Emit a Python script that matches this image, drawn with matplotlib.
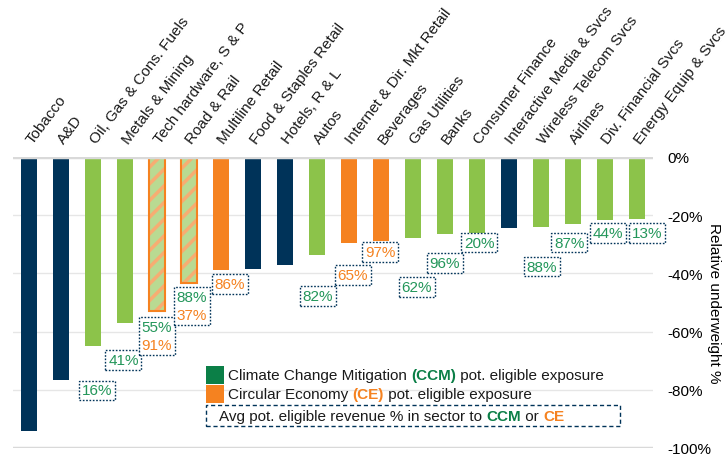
import numpy as np
import matplotlib.pyplot as plt
from matplotlib.offsetbox import TextArea, VPacker, HPacker, DrawingArea, AnnotationBbox
from matplotlib.patches import Rectangle

plt.rcParams['font.family'] = ['Liberation Sans', 'DejaVu Sans']

# sectors, left to right
categories = ["Tobacco", "A&D", "Oil, Gas & Cons. Fuels", "Metals & Mining",
              "Tech hardware, S & P", "Road & Rail", "Multiline Retail",
              "Food & Staples Retail", "Hotels, R & L", "Autos",
              "Internet & Dir. Mkt Retail", "Beverages", "Gas Utilities", "Banks",
              "Consumer Finance", "Interactive Media & Svcs", "Wireless Telecom Svcs",
              "Airlines", "Div. Financial Svcs", "Energy Equip & Svcs"]
# relative underweight %
values = [-94, -76.5, -65, -57, -53, -43.3, -39, -38.6, -37, -33.6,
          -29.5, -28.8, -28, -26.3, -26, -24.4, -24, -23, -21.5, -21.3]
# eligible exposure type: none / CCM / CE / both
exposure = ["none", "none", "CCM", "CCM", "both", "both", "CE", "none", "none", "CCM",
            "CE", "CE", "CCM", "CCM", "CCM", "none", "CCM", "CCM", "CCM", "CCM"]
# avg pot. eligible revenue %
ccm_pct = [None, None, 16, 41, 55, 88, None, None, None, 82,
           None, None, 62, 96, 20, None, 88, 87, 44, 13]
ce_pct = [None, None, None, None, 91, 37, 86, None, None, None,
          65, 97, None, None, None, None, None, None, None, None]
yticks = [0, -20, -40, -60, -80, -100]

# where the percentage boxes sit (data coords)
label_x = [None, None, 2.12, 2.95, 4.0, 5.09, 6.28, None, None, 9.03,
           10.12, 10.98, 12.12, 13.0, 14.07, None, 16.03, 16.88, 18.09, 19.31]
label_y = [None, None, -80.2, -69.8, -61.5, -51.2, -43.6, None, None, -47.8,
           -40.5, -32.6, -44.7, -36.4, -29.4, None, -37.7, -29.4, -26.1, -26.1]

navy = "#003359"
green = "#8cc34a"
orange = "#f58220"
dkgreen = "#0b7f47"
txtgreen = "#23965a"
light_green = "#b9da92"
light_orange = "#f7ad72"

fig = plt.figure(figsize=(7.28, 4.56), dpi=100)
ax = fig.add_axes([13/728, 7/456, 640/728, 291/456])

x = np.arange(len(categories))
colors = {"none": navy, "CCM": green, "CE": orange, "both": light_green}

plt.rcParams['hatch.linewidth'] = 2.5
for i, (v, e) in enumerate(zip(values, exposure)):
    if e == "both":
        ax.bar(x[i], v, 0.5, color=light_green, edgecolor=light_orange,
               hatch="//", linewidth=0, zorder=2)
        ax.bar(x[i], v, 0.5, color="none", edgecolor=orange, linewidth=1.5, zorder=3)
    else:
        ax.bar(x[i], v, 0.5, color=colors[e], zorder=2)

# grid
for t in yticks:
    if t in (0, -100):
        ax.axhline(t, color="#d9d9d9", lw=2.5, zorder=4)
    else:
        ax.axhline(t, color="#e6e6e6", lw=1, zorder=1)

ax.set_xlim(-0.5, len(categories) - 0.5)
ax.set_ylim(-100, 0)
for s in ax.spines.values():
    s.set_visible(False)

ax.xaxis.tick_top()
ax.set_xticks(x)
ax.set_xticklabels(categories, rotation=53, ha="left", va="center",
                   rotation_mode="anchor", fontsize=11, color="#1a1a1a")
ax.tick_params(axis="x", length=0, pad=11)

ax.yaxis.tick_right()
ax.set_yticks(yticks)
ax.set_yticklabels(["%d%%" % t for t in yticks], fontsize=11)
ax.tick_params(axis="y", length=0, pad=10)
ax.yaxis.set_label_position("right")
ax.set_ylabel("Relative underweight %", rotation=270, fontsize=11,
              va="center", ha="center")
ax.yaxis.set_label_coords(1.095, 0.5)

# percentage boxes
frame = dict(boxstyle="square,pad=0.2", fc="white", ec=navy, lw=1, ls=(0, (1.2, 1.2)))
for i in range(len(categories)):
    if label_x[i] is None:
        continue
    items = []
    if ccm_pct[i] is not None:
        items.append(TextArea("%d%%" % ccm_pct[i], textprops=dict(color=txtgreen, fontsize=11)))
    if ce_pct[i] is not None:
        items.append(TextArea("%d%%" % ce_pct[i], textprops=dict(color=orange, fontsize=11)))
    box = VPacker(children=items, align="center", pad=0, sep=3)
    ab = AnnotationBbox(box, (label_x[i], label_y[i]), frameon=True, pad=0.25,
                        bboxprops=frame, zorder=5)
    ax.add_artist(ab)


def legend_line(parts, xy, square=None):
    kids = []
    if square is not None:
        da = DrawingArea(13, 13, 0, 0)
        da.add_artist(Rectangle((0, 0), 13, 13, fc=square, ec="none"))
        kids.append(da)
    row = HPacker(children=[TextArea(t, textprops=dict(color=c, fontsize=11, fontweight=w))
                            for t, c, w in parts], align="baseline", pad=0, sep=0)
    kids.append(row)
    pack = HPacker(children=kids, align="center", pad=0, sep=3)
    ab = AnnotationBbox(pack, xy, xycoords="axes fraction", box_alignment=(0, 0.5),
                        frameon=False, pad=0, zorder=6)
    ax.add_artist(ab)


legend_line([("Climate Change Mitigation ", "#1a1a1a", "normal"), ("(CCM)", dkgreen, "bold"),
             (" pot. eligible exposure", "#1a1a1a", "normal")], (0.301, 0.251), dkgreen)
legend_line([("Circular Economy ", "#1a1a1a", "normal"), ("(CE)", orange, "bold"),
             (" pot. eligible exposure", "#1a1a1a", "normal")], (0.301, 0.184), orange)

ax.add_patch(Rectangle((0.301, 0.0746), 0.647, 0.072, transform=ax.transAxes,
                       fc="white", ec=navy, lw=1, ls=(0, (3, 2)), zorder=5))
legend_line([("Avg pot. eligible revenue % in sector to ", "#1a1a1a", "normal"),
             ("CCM", dkgreen, "bold"), (" or ", "#1a1a1a", "normal"),
             ("CE", orange, "bold")], (0.322, 0.1107))

plt.savefig("out.png", dpi=100)
